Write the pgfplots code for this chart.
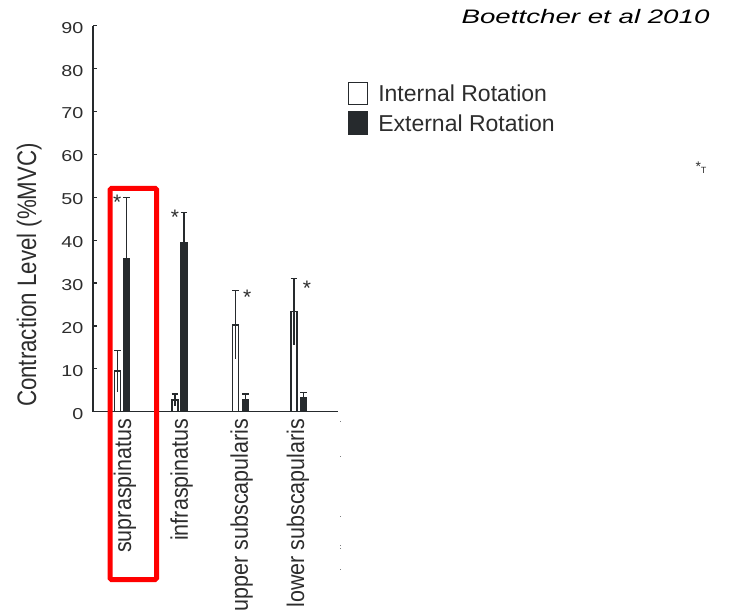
\documentclass[border=0pt]{standalone}
\usepackage{pgfplots}
\pgfplotsset{compat=1.18}
\usepackage{fontspec}
\setmainfont{Liberation Sans}
\definecolor{barc}{RGB}{38,42,45}
\definecolor{txt}{RGB}{45,45,45}
\newcommand{\xl}[1]{\scalebox{1}[1.12]{#1}}
\pgfplotstableread{
x y e
117.3 9.5 4.8
175.0 2.7 1.4
235.7 20.2 8.0
294.0 23.3 7.7
}\irdata
\pgfplotstableread{
x y e
126.7 35.8 14.2
184.0 39.4 7.1
245.3 2.7 1.4
303.3 3.3 1.2
}\erdata
\begin{document}
\begin{tikzpicture}[x=1pt,y=1pt]
\useasboundingbox (0,0) rectangle (738,613);
\begin{axis}[
  at={(93pt,201.3pt)}, anchor=south west,
  scale only axis, width=245pt, height=386pt,
  xmin=93, xmax=338, ymin=0, ymax=90,
  clip=false,
  /pgf/number format/assume math mode=true,
  axis x line*=bottom, axis y line*=left,
  axis line style={draw=barc, line width=1.2pt},
  ytick={0,10,...,90},
  tick align=inside, major tick length=3.5pt,
  ytick style={draw=barc, line width=1.2pt},
  xtick={125,181.7,241.7,298},
  xticklabels={\xl{supraspinatus},\xl{infraspinatus},\xl{upper subscapularis},\xl{lower subscapularis}},
  xtick style={draw=none},
  xticklabel style={yshift=-7pt, rotate=90, anchor=east, inner sep=0pt, text=txt,
    font=\fontsize{21.5}{25}\selectfont},
  yticklabel={\scalebox{1.25}[1]{\pgfmathprintnumber{\tick}}},
  yticklabel style={anchor=east, inner sep=0pt, xshift=-9.5pt, yshift=-2pt, text=txt,
    font=\fontsize{15.8}{18}\selectfont},
  legend style={at={(1.04,0.855)}, anchor=north west, draw=none, fill=none,
    inner sep=0pt, row sep=6pt, font=\fontsize{23}{27}\selectfont, text=txt,
    /tikz/every odd column/.append style={column sep=8pt}},
  legend cell align=left,
  legend image code/.code={\draw[#1] (0pt,-10.4pt) rectangle (19pt,11.6pt);},
]
\addplot[ybar, bar width=5.8pt, bar shift=0pt, fill=white, draw=barc, line width=1.3pt,
  error bars/.cd, y dir=plus, y explicit,
  error bar style={line width=1.3pt, draw=barc},
  error mark options={rotate=90, barc, line width=1.3pt, mark size=3.3pt}]
  table[x=x, y=y, y error=e] {\irdata};
\addlegendentry{Internal Rotation}
\addplot[ybar, bar width=5.8pt, bar shift=0pt, fill=barc, draw=barc, line width=1.3pt,
  error bars/.cd, y dir=plus, y explicit,
  error bar style={line width=1.3pt, draw=barc},
  error mark options={rotate=90, barc, line width=1.3pt, mark size=3.3pt}]
  table[x=x, y=y, y error=e] {\erdata};
\addlegendentry{External Rotation}
\addplot[forget plot, ybar, bar width=5.8pt, bar shift=0pt, fill=none, draw=none,
  error bars/.cd, y dir=minus, y explicit, error mark=none,
  error bar style={line width=1.3pt, draw=barc, solid}]
  table[x=x, y=y, y error=e] {\irdata};
\node[anchor=base, text=txt, font=\fontsize{21}{21}\selectfont] at (axis cs:117.3,47.1) {*};
\node[anchor=base, text=txt, font=\fontsize{21}{21}\selectfont] at (axis cs:175.0,43.6) {*};
\node[anchor=base, text=txt, font=\fontsize{21}{21}\selectfont] at (axis cs:247.3,25.1) {*};
\node[anchor=base, text=txt, font=\fontsize{21}{21}\selectfont] at (axis cs:307.0,27.1) {*};
\end{axis}
\draw[red, line width=5pt, rounded corners=1.5pt] (110,33.5) rectangle (156.7,424.7);
\node[rotate=90, anchor=base, text=txt] at (36,338)
  {\scalebox{1}[1.2]{\fontsize{22.3}{26}\selectfont Contraction Level (\%MVC)}};
\node[anchor=base east, text=black] at (713,589)
  {\scalebox{1.42}[1]{\fontsize{19.5}{23}\selectfont\itshape Boettcher et al 2010}};
\node[anchor=center, text=txt, inner sep=0pt] at (701,445)
  {\fontsize{14}{14}\selectfont *\raisebox{-2pt}{\fontsize{9}{9}\selectfont T}};
\foreach \yy in {191,156,96,67,64,43} {\fill[barc!60] (339.5,\yy) rectangle (340.5,\yy+1);}
\end{tikzpicture}
\end{document}
